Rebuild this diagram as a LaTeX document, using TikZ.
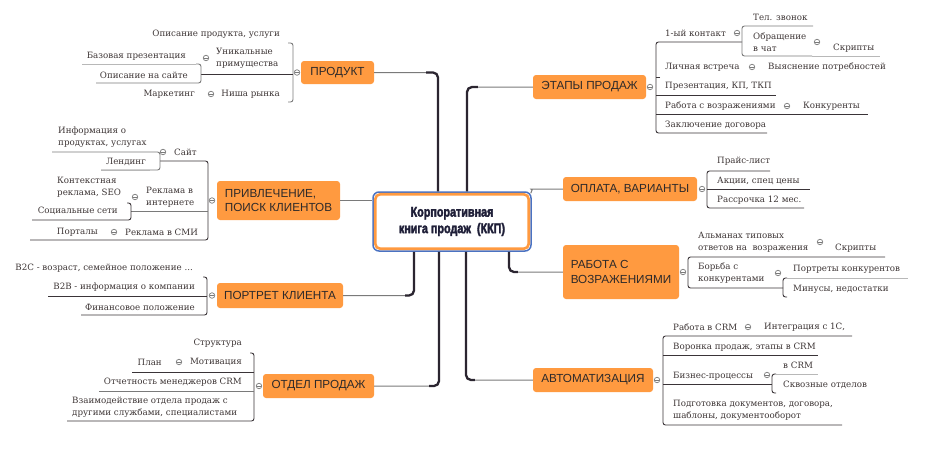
\documentclass[tikz,border=0pt]{standalone}
\usepackage{fontspec}
\setmainfont{DejaVu Serif}
\newfontfamily\branchfont{Liberation Sans}
\newfontfamily\centerfont[FakeStretch=0.77,BoldFeatures={FakeStretch=0.77,FakeBold=2.5}]{Liberation Sans}
\usetikzlibrary{calc}
\definecolor{orng}{HTML}{FF9A40}
\definecolor{blu}{HTML}{4A72C2}
\definecolor{txt}{HTML}{3E3636}
\definecolor{btxt}{HTML}{2E2A2A}
\definecolor{navy}{HTML}{1F1F38}
\definecolor{dk}{HTML}{3A3438}
\definecolor{md}{HTML}{7A7A7A}
\definecolor{lt}{HTML}{B8B8B8}
\definecolor{trunkc}{HTML}{2B2530}
\tikzset{
  leaf/.style={font=\fontsize{8.7}{12}\selectfont, text=txt, inner sep=0pt, align=left},
  branch/.style={fill=orng, rounded corners=3pt, font=\branchfont\fontsize{11.7}{14.5}\selectfont, text=btxt, inner sep=0pt},
  knob/.style={circle, draw=md, fill=white, line width=0.7pt, inner sep=0pt, minimum size=5.5pt,
    path picture={\draw[md,line width=0.5pt] ([xshift=1.2pt]path picture bounding box.west) -- ([xshift=-1.2pt]path picture bounding box.east);}},
  brk/.style={draw=dk, line width=0.9pt, rounded corners=2.5pt},
  brkm/.style={draw=md, line width=0.9pt, rounded corners=2.5pt},
  ulm/.style={draw=md, line width=0.9pt},
  ull/.style={draw=lt, line width=0.9pt},
  uld/.style={draw=dk, line width=0.9pt},
  conn/.style={draw=md, line width=1pt, rounded corners=5pt},
  trunk/.style={draw=trunkc, line width=2.3pt, rounded corners=5pt},
}
\begin{document}
\begin{tikzpicture}[x=1pt,y=-1pt]
\useasboundingbox (0,0) rectangle (926,448);
\fill[white] (0,0) rectangle (926,448);

% ---------- center ----------
\node[draw=blu, line width=1.5pt, rounded corners=6pt, fill=white, minimum width=158pt, minimum height=59pt,
  inner sep=0pt, align=center, font=\centerfont\bfseries\fontsize{14}{16.5}\selectfont, text=navy] (c) at (452,221.5)
  {Корпоративная\\книга продаж\ \ (ККП)};
\draw[orng, line width=2.6pt, rounded corners=5pt] ($(c.south west)+(3,-3)$) rectangle ($(c.north east)+(-3,3)$);

% ---------- branches ----------
\node[branch, minimum width=73pt, minimum height=23pt] (prod) at (337.5,72.5) {ПРОДУКТ};
\node[branch, minimum width=123pt, minimum height=39pt, align=left] (priv) at (278.5,200.5) {ПРИВЛЕЧЕНИЕ,\\ПОИСК КЛИЕНТОВ};
\node[branch, minimum width=126pt, minimum height=25pt] (port) at (280,295.5) {ПОРТРЕТ КЛИЕНТА};
\node[branch, minimum width=111pt, minimum height=24pt] (otd) at (318.5,386) {ОТДЕЛ ПРОДАЖ};
\node[branch, minimum width=113pt, minimum height=24pt] (etap) at (589.5,87) {ЭТАПЫ ПРОДАЖ};
\node[branch, minimum width=134pt, minimum height=24pt] (opl) at (630,189) {ОПЛАТА, ВАРИАНТЫ};
\node[branch, minimum width=116pt, minimum height=54pt, align=left] (rab) at (621,272) {РАБОТА С\\ВОЗРАЖЕНИЯМИ};
\node[branch, minimum width=120pt, minimum height=24pt] (avto) at (593,380) {АВТОМАТИЗАЦИЯ};

% ---------- main connectors ----------
\draw[conn] (prod.east) -| ($(c.north)+(-14,0)$);
\draw[trunk] ($(prod.east)+(52,0)$) -| ($(c.north)+(-14,0)$);
\draw[conn] (etap.west) -| ($(c.north)+(15,0)$);
\draw[trunk] ($(etap.west)+(-55,0)$) -| ($(c.north)+(15,0)$);
\draw[conn] (priv.east) -- (priv.east -| c.west);
\draw[conn] (opl.west) -- ($(opl.west)+(-27,0)$) to[out=180,in=70] ($(c.north east)+(-1,2)$);
\draw[conn] (rab.west) -| ($(c.south)+(57,0)$);
\draw[trunk] ($(rab.west)+(-45,0)$) -| ($(c.south)+(57,0)$);
\draw[conn] (port.east) -| ($(c.south)+(-38,0)$);
\draw[trunk] ($(port.east)+(62,0)$) -| ($(c.south)+(-38,0)$);
\draw[conn] (otd.east) -| ($(c.south)+(-13,0)$);
\draw[trunk] ($(otd.east)+(55,0)$) -| ($(c.south)+(-13,0)$);
\draw[conn] (avto.west) -| ($(c.south)+(14,0)$);
\draw[trunk] ($(avto.west)+(-58,0)$) -| ($(c.south)+(14,0)$);

% ---------- ПРОДУКТ ----------
\draw[brkm] (288,43) -- (293,43) -- (293,102) -- (288,102);
\draw[uld] (201,74) -- (293,74);
\draw[brkm] (196,64) -- (201,64) -- (201,83) -- (96,83);
\draw[ull] (82,64) -- (196,64);
\node[leaf, anchor=east] (p1) at (280,34) {Описание продукта, услуги};
\node[leaf, anchor=west] (p2) at (216,58.5) {Уникальные\\примущества};
\node[leaf, anchor=east] (p3) at (186,56) {Базовая презентация};
\node[leaf, anchor=east] (p4) at (188,75) {Описание на сайте};
\node[leaf, anchor=east] (p5) at (195,94) {Маркетинг};
\node[leaf, anchor=east] (p6) at (280,94) {Ниша рынка};
\node[knob] (kp0) at (297,72.5) {};
\node[knob] (kp1) at (206,58) {};
\node[knob] (kp2) at (211,94) {};

% ---------- ПРИВЛЕЧЕНИЕ ----------
\draw[brk] (160,161) -- (208,161) -- (208,240) -- (30,240);
\draw[ulm] (131,211) -- (208,211);
\draw[brkm] (52,152) -- (160,152) -- (160,170) -- (101,170);
\draw[ull] (101,170) -- (150,170);
\draw[brk] (127,203) -- (131,203) -- (131,220) -- (32,220);
\node[leaf, anchor=west] (v1) at (58,137) {Информация о\\продуктах, услугах};
\node[leaf, anchor=west] (v2) at (174,152) {Сайт};
\node[leaf, anchor=east] (v3) at (146,162) {Лендинг};
\node[leaf, anchor=west] (v4) at (57,187) {Контекстная\\реклама, SEO};
\node[leaf, anchor=west] (v5) at (146,197) {Реклама в\\интернете};
\node[leaf, anchor=east] (v6) at (118,211) {Социальные сети};
\node[leaf, anchor=east] (v7) at (98,232) {Порталы};
\node[leaf, anchor=west] (v8) at (125,232) {Реклама в СМИ};
\node[knob] (kv0) at (212,200.5) {};
\node[knob] (kv1) at (163,152) {};
\node[knob] (kv2) at (135,197) {};
\node[knob] (kv3) at (114,232) {};

% ---------- ПОРТРЕТ ----------
\draw[brk] (203,277) -- (207,277) -- (207,315) -- (81,315);
\draw[uld] (48,296) -- (207,296);
\node[leaf, anchor=east] (r1) at (193,268) {B2C - возраст, семейное положение ...};
\node[leaf, anchor=east] (r2) at (195,287) {B2B - информация о компании};
\node[leaf, anchor=east] (r3) at (195,307) {Финансовое положение};
\node[knob] (kr0) at (212,295.5) {};

% ---------- ОТДЕЛ ПРОДАЖ ----------
\draw[brk] (250,353) -- (254,353) -- (254,421) -- (67,421);
\draw[uld] (132,372) -- (254,372);
\draw[ulm] (99,391) -- (254,391);
\node[leaf, anchor=east] (o1) at (242,343) {Структура};
\node[leaf, anchor=east] (o2) at (162,362) {План};
\node[leaf, anchor=east] (o3) at (242,362) {Мотивация};
\node[leaf, anchor=east] (o4) at (242,382) {Отчетность менеджеров CRM};
\node[leaf, anchor=west] (o5) at (72,407) {Взаимодействие отдела продаж с\\другими службами, специалистами};
\node[knob] (ko0) at (259,386) {};
\node[knob] (ko1) at (179,362) {};

% ---------- ЭТАПЫ ПРОДАЖ ----------
\draw[brk] (742,42) -- (656,42) -- (656,133) -- (767,133);
\draw[brk] (660,77) -- (656,77);
\draw[uld] (656,95) -- (776,95);
\draw[uld] (656,114) -- (868,114);
\draw[brkm] (813,26) -- (742,26) -- (742,56) -- (812,56);
\draw[ull] (812,56) -- (880,56);
\node[leaf, anchor=west] (e1) at (665,33) {1-ый контакт};
\node[leaf, anchor=west] (e2) at (753,17) {Тел. звонок};
\node[leaf, anchor=west] (e3) at (753,42) {Обращение\\в чат};
\node[leaf, anchor=west] (e4) at (833,48) {Скрипты};
\node[leaf, anchor=west] (e5) at (665,67) {Личная встреча};
\node[leaf, anchor=west] (e6) at (768,67) {Выяснение потребностей};
\node[leaf, anchor=west] (e7) at (665,86) {Презентация, КП, ТКП};
\node[leaf, anchor=west] (e8) at (665,106) {Работа с возражениями};
\node[leaf, anchor=west] (e9) at (803,106) {Конкуренты};
\node[leaf, anchor=west] (e10) at (665,125) {Заключение договора};
\node[knob] (ke0) at (650,87) {};
\node[knob] (ke1) at (737,33) {};
\node[knob] (ke2) at (817,42) {};
\node[knob] (ke3) at (752,67) {};
\node[knob] (ke4) at (787,106) {};

% ---------- ОПЛАТА ----------
\draw[brk] (770,171) -- (707,171) -- (707,208) -- (804,208);
\draw[uld] (707,189) -- (810,189);
\node[leaf, anchor=west] (a1) at (717,161) {Прайс-лист};
\node[leaf, anchor=west] (a2) at (717,181) {Акции, спец цены};
\node[leaf, anchor=west] (a3) at (717,200) {Рассрочка 12 мес.};
\node[knob] (ka0) at (702,189) {};

% ---------- РАБОТА С ВОЗРАЖЕНИЯМИ ----------
\draw[brk] (885,257) -- (688,257) -- (688,288) -- (783,288);
\draw[brk] (787,278) -- (783,278) -- (783,297) -- (787,297);
\draw[ull] (787,278) -- (908,278);
\node[leaf, anchor=west] (w1) at (698,242) {Альманах типовых\\ответов на\ \ возражения};
\node[leaf, anchor=west] (w2) at (835,248) {Скрипты};
\node[leaf, anchor=west] (w3) at (698,273.5) {Борьба с\\конкурентами};
\node[leaf, anchor=west] (w4) at (793,269) {Портреты конкурентов};
\node[leaf, anchor=west] (w5) at (793,289) {Минусы, недостатки};
\node[knob] (kw0) at (683,272) {};
\node[knob] (kw1) at (820,242) {};
\node[knob] (kw2) at (778,273) {};

% ---------- АВТОМАТИЗАЦИЯ ----------
\draw[brk] (852,336) -- (663,336) -- (663,425) -- (842,425);
\draw[uld] (663,355) -- (818,355);
\draw[uld] (663,384) -- (772,384);
\draw[brk] (776,374) -- (772,374) -- (772,393) -- (776,393);
\draw[ull] (776,374) -- (818,374);
\node[leaf, anchor=west] (t1) at (673,327) {Работа в CRM};
\node[leaf, anchor=west] (t2) at (764,327) {Интеграция с 1С,};
\node[leaf, anchor=west] (t3) at (673,347) {Воронка продаж, этапы в CRM};
\node[leaf, anchor=west] (t4) at (673,376) {Бизнес-процессы};
\node[leaf, anchor=west] (t5) at (783,365) {в CRM};
\node[leaf, anchor=west] (t6) at (783,385) {Сквозные отделов};
\node[leaf, anchor=west] (t7) at (673,410) {Подготовка документов, договора,\\шаблоны, документооборот};
\node[knob] (kt0) at (657,380) {};
\node[knob] (kt1) at (748,327) {};
\node[knob] (kt2) at (767,375) {};
\end{tikzpicture}
\end{document}
